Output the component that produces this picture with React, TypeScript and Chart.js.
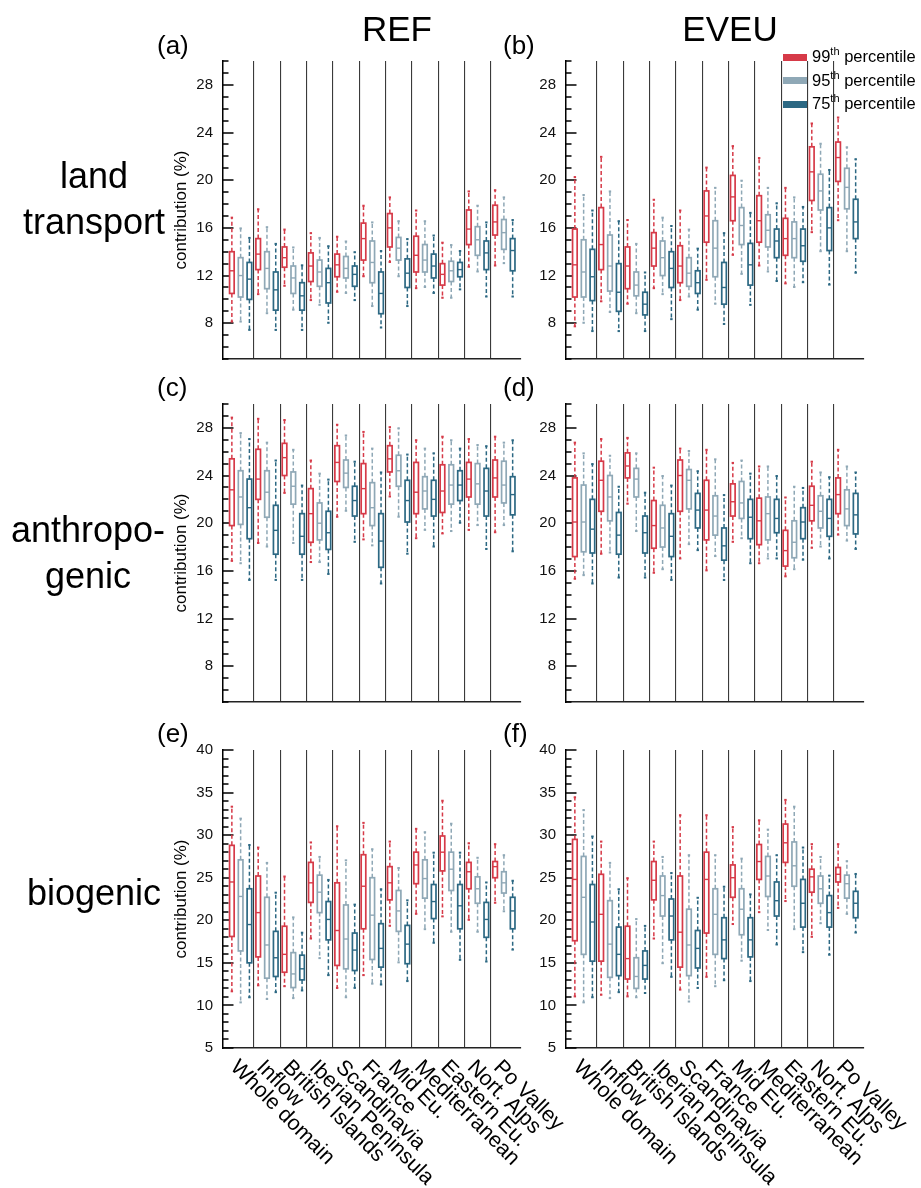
import React, { useEffect, useRef } from 'react';
import { Chart, registerables } from 'chart.js';
Chart.register(...registerables);

const categories = ['Whole domain', 'Inflow', 'British Islands', 'Iberian Peninsula', 'Scandinavia', 'France', 'Mid Eu.', 'Mediterranean', 'Eastern Eu.', 'Nort. Alps', 'Po Valley'];
const seriesLabels = ['99', '95', '75'];
const seriesColors = ['#d63a48', '#8fa8b6', '#2c6883'];
const seriesOffsets = [-1 / 3, 0, 1 / 3];

const yTicksContribution = [8, 12, 16, 20, 24, 28];
const yTicksBiogenic = [5, 10, 15, 20, 25, 30, 35, 40];

// each entry: [min, q1, median, q3, max]
const landRef99 = [[8.1, 10.5, 12.4, 14.0, 16.9], [10.4, 12.5, 13.8, 15.1, 17.6], [11.1, 12.7, 13.5, 14.4, 15.9], [9.9, 11.5, 12.8, 13.9, 15.6], [10.6, 11.9, 12.9, 13.8, 15.3], [11.9, 13.3, 15.1, 16.4, 17.9], [13.1, 14.4, 16.0, 17.2, 18.6], [10.9, 12.3, 13.7, 15.3, 17.5], [10.1, 11.2, 12.1, 13.0, 14.8], [12.7, 14.6, 15.9, 17.5, 19.1], [12.8, 15.4, 16.5, 17.9, 19.2]];
const landRef95 = [[8.1, 10.2, 12.0, 13.5, 16.0], [8.8, 10.9, 12.6, 14.0, 16.1], [9.1, 10.5, 11.8, 12.8, 14.4], [9.5, 11.1, 12.3, 13.3, 15.2], [10.5, 11.8, 12.6, 13.6, 14.9], [9.4, 11.4, 13.1, 14.9, 16.5], [11.9, 13.3, 14.3, 15.2, 16.6], [11.0, 12.3, 13.3, 14.6, 16.6], [10.1, 11.5, 12.4, 13.2, 14.6], [12.3, 13.7, 15.0, 16.1, 17.9], [13.0, 14.2, 15.6, 16.7, 18.6]];
const landRef75 = [[7.4, 10.0, 11.7, 13.1, 15.2], [7.4, 9.1, 10.8, 12.3, 14.7], [7.4, 9.1, 10.3, 11.4, 12.9], [8.0, 9.7, 11.4, 12.6, 14.5], [9.9, 11.1, 12.1, 12.8, 14.0], [7.6, 8.8, 10.5, 12.3, 14.1], [9.4, 11.0, 12.2, 13.4, 15.1], [10.5, 11.8, 12.8, 13.8, 15.4], [10.8, 11.9, 12.5, 13.1, 14.1], [10.2, 12.5, 13.9, 14.9, 16.5], [10.2, 12.4, 14.1, 15.1, 16.7]];

const landEveu99 = [[7.7, 10.2, 12.9, 15.9, 20.3], [9.8, 12.5, 14.6, 17.7, 22.0], [9.6, 10.9, 12.8, 14.4, 16.7], [10.9, 12.8, 14.3, 15.6, 18.4], [9.9, 11.4, 12.8, 14.5, 17.5], [11.6, 14.8, 17.0, 19.1, 21.1], [13.7, 16.6, 18.6, 20.4, 22.9], [12.8, 14.8, 16.6, 18.7, 21.9], [11.3, 13.7, 15.1, 16.8, 19.4], [15.6, 18.3, 20.7, 22.8, 24.8], [16.6, 19.9, 21.9, 23.2, 25.3]];
const landEveu95 = [[8.0, 10.2, 12.3, 15.0, 18.8], [8.9, 10.7, 12.8, 15.4, 19.1], [8.8, 10.3, 11.2, 12.3, 14.7], [10.4, 12.0, 13.5, 14.9, 16.9], [10.2, 11.1, 12.2, 13.5, 15.9], [9.6, 11.9, 14.3, 16.6, 19.4], [12.1, 14.6, 16.2, 17.7, 20.0], [12.3, 14.4, 15.8, 17.1, 19.4], [11.0, 13.5, 15.1, 16.5, 18.6], [14.0, 17.5, 19.1, 20.5, 23.1], [14.0, 17.6, 19.4, 21.0, 22.8]];
const landEveu75 = [[7.3, 9.9, 11.9, 14.2, 17.5], [7.3, 9.0, 10.6, 13.0, 16.6], [7.3, 8.7, 9.6, 10.6, 12.3], [8.3, 11.0, 12.6, 14.0, 16.2], [9.1, 10.5, 11.4, 12.4, 14.3], [7.9, 9.6, 11.0, 13.1, 15.6], [9.5, 11.2, 12.9, 14.7, 17.3], [11.5, 13.5, 14.9, 15.9, 18.1], [11.4, 13.2, 14.5, 15.9, 17.8], [11.2, 14.1, 16.0, 17.7, 20.9], [12.2, 15.1, 16.5, 18.4, 21.8]];

const anthRef99 = [[16.8, 19.8, 22.8, 25.4, 28.9], [18.3, 22.0, 23.7, 26.2, 28.8], [22.5, 24.0, 25.5, 26.7, 28.7], [16.7, 18.4, 20.8, 22.9, 25.3], [20.5, 23.5, 25.1, 26.5, 28.3], [18.6, 20.8, 22.9, 25.0, 27.7], [22.2, 24.3, 25.4, 26.5, 28.1], [18.7, 20.8, 22.6, 25.1, 27.0], [19.1, 20.9, 22.7, 24.9, 27.3], [19.4, 22.2, 23.7, 25.1, 27.1], [19.2, 22.2, 23.8, 25.3, 27.3]];
const anthRef95 = [[16.6, 19.9, 22.2, 24.4, 27.6], [18.0, 20.5, 22.6, 24.4, 26.8], [18.3, 21.6, 23.1, 24.3, 26.2], [16.7, 18.6, 20.0, 21.7, 24.2], [21.0, 23.0, 24.2, 25.3, 27.4], [18.1, 19.8, 21.3, 23.4, 26.3], [20.5, 23.1, 24.4, 25.7, 28.0], [19.4, 21.2, 22.7, 23.9, 26.3], [19.3, 21.6, 23.2, 24.9, 27.0], [19.8, 21.6, 23.3, 25.0, 26.6], [19.8, 21.7, 23.2, 25.2, 26.8]];
const anthRef75 = [[15.2, 18.7, 21.3, 23.7, 27.1], [15.2, 17.4, 19.4, 21.5, 25.3], [15.2, 17.4, 18.9, 20.8, 23.2], [15.7, 17.8, 19.2, 21.0, 23.7], [18.4, 20.6, 21.9, 23.1, 25.2], [14.9, 16.3, 18.5, 20.8, 24.3], [17.4, 20.1, 21.9, 23.6, 25.8], [18.0, 20.6, 22.0, 23.6, 25.9], [20.0, 21.9, 23.2, 24.4, 26.3], [17.8, 20.6, 22.7, 24.6, 26.5], [17.6, 20.7, 22.4, 23.9, 27.0]];

const anthEveu99 = [[15.3, 17.2, 20.1, 23.8, 26.8], [17.4, 21.0, 23.6, 25.2, 27.1], [21.6, 23.8, 24.8, 25.9, 27.2], [15.8, 17.9, 19.8, 21.9, 24.7], [17.0, 21.0, 24.0, 25.3, 26.3], [16.0, 18.6, 21.1, 23.6, 26.2], [18.4, 20.6, 21.8, 23.3, 25.1], [16.6, 18.2, 20.2, 22.1, 24.8], [15.5, 16.4, 17.7, 19.4, 22.2], [17.9, 20.2, 21.5, 23.1, 25.2], [19.0, 20.8, 22.4, 23.8, 26.2]];
const anthEveu95 = [[15.6, 17.6, 20.1, 23.2, 25.9], [17.5, 20.2, 22.2, 24.0, 25.7], [19.3, 22.2, 23.7, 24.6, 25.9], [16.1, 18.0, 19.6, 21.5, 24.0], [18.2, 21.2, 23.6, 24.5, 26.1], [17.2, 19.0, 20.6, 22.3, 25.4], [18.7, 20.4, 21.7, 23.5, 25.3], [17.0, 18.6, 20.8, 22.2, 24.8], [16.1, 17.1, 18.4, 20.2, 23.1], [18.0, 19.6, 21.0, 22.3, 24.3], [18.5, 19.8, 21.2, 22.8, 24.8]];
const anthEveu75 = [[14.9, 17.5, 19.5, 22.0, 25.0], [15.4, 17.4, 19.0, 20.9, 23.1], [15.4, 17.5, 19.2, 20.6, 22.6], [15.2, 17.2, 18.9, 20.8, 23.2], [17.7, 19.6, 21.1, 22.5, 24.4], [15.2, 16.9, 18.1, 19.6, 22.4], [16.6, 18.7, 20.5, 22.0, 24.2], [17.0, 19.2, 20.4, 22.0, 24.0], [16.9, 18.7, 20.1, 21.3, 23.0], [17.0, 18.9, 20.4, 22.0, 23.9], [17.8, 19.1, 20.7, 22.5, 24.3]];

const bioRef99 = [[11.6, 18.1, 24.5, 28.8, 33.4], [12.3, 15.7, 20.9, 25.2, 28.6], [12.2, 13.9, 16.0, 19.3, 25.2], [17.8, 22.1, 24.4, 26.8, 29.2], [12.0, 14.7, 18.8, 24.4, 31.1], [13.5, 19.0, 24.0, 27.7, 31.5], [19.3, 22.4, 24.4, 26.3, 29.3], [20.7, 24.3, 26.5, 28.0, 30.8], [20.4, 25.8, 28.0, 29.9, 34.1], [20.0, 23.7, 25.7, 26.8, 29.1], [22.0, 25.0, 26.3, 26.9, 29.0]];
const bioRef95 = [[10.3, 16.4, 22.8, 27.1, 32.0], [10.7, 13.2, 17.1, 22.7, 26.8], [10.8, 12.1, 13.7, 16.2, 20.4], [15.5, 20.9, 23.3, 25.3, 27.5], [10.9, 14.3, 17.8, 21.8, 27.1], [12.5, 15.4, 20.6, 25.0, 28.4], [15.0, 18.7, 21.1, 23.5, 26.2], [18.9, 22.6, 24.9, 27.1, 30.4], [18.6, 23.5, 26.0, 28.0, 31.4], [18.6, 22.0, 23.7, 25.1, 27.4], [21.0, 23.2, 24.4, 25.7, 27.7]];
const bioRef75 = [[10.9, 15.0, 19.5, 23.7, 28.9], [11.5, 13.4, 15.6, 18.7, 23.3], [11.7, 13.0, 14.3, 15.9, 18.6], [13.5, 17.7, 20.1, 22.2, 24.8], [12.0, 14.1, 16.5, 18.5, 21.9], [12.4, 14.5, 16.7, 19.6, 23.7], [12.8, 14.9, 17.2, 19.4, 22.4], [17.3, 20.2, 22.2, 24.2, 28.0], [15.3, 19.0, 21.7, 24.2, 28.0], [15.1, 18.0, 20.1, 22.1, 24.5], [16.5, 19.0, 21.1, 22.7, 24.7]];

const bioEveu99 = [[11.0, 17.6, 24.8, 29.5, 34.5], [11.2, 15.2, 20.7, 25.4, 29.3], [11.0, 13.1, 15.5, 19.3, 25.0], [17.8, 22.4, 24.7, 26.9, 29.3], [11.8, 14.5, 18.6, 25.2, 32.4], [13.3, 18.5, 24.8, 28.0, 32.4], [19.5, 22.7, 25.0, 26.5, 31.0], [20.9, 24.8, 26.9, 28.9, 31.8], [22.2, 26.8, 29.1, 31.3, 34.2], [18.0, 23.3, 25.1, 26.0, 29.0], [21.4, 24.5, 25.4, 26.2, 29.0]];
const bioEveu95 = [[10.3, 16.0, 22.7, 27.5, 33.0], [10.8, 13.3, 17.2, 22.3, 26.8], [10.9, 12.0, 13.4, 15.6, 20.2], [14.9, 20.5, 22.9, 25.2, 27.5], [10.4, 13.5, 17.1, 21.3, 27.7], [12.2, 16.0, 20.7, 23.7, 27.7], [15.2, 18.3, 21.3, 23.7, 27.3], [18.8, 22.8, 25.2, 27.5, 30.7], [18.9, 24.0, 26.4, 29.2, 33.4], [19.6, 22.0, 23.7, 25.2, 27.5], [20.7, 22.6, 24.3, 25.3, 27.0]];
const bioEveu75 = [[10.9, 15.2, 19.8, 24.2, 29.9], [11.5, 13.5, 16.0, 19.2, 23.7], [11.4, 13.1, 14.7, 16.4, 19.4], [13.3, 17.7, 20.5, 22.5, 25.6], [12.0, 14.4, 16.7, 18.8, 22.7], [12.9, 15.5, 17.7, 20.3, 24.0], [12.8, 15.7, 17.7, 20.3, 23.1], [17.1, 20.5, 22.3, 24.5, 27.7], [16.2, 19.2, 22.0, 24.8, 28.6], [15.9, 19.2, 20.9, 22.9, 25.3], [18.5, 20.3, 22.0, 23.4, 25.5]];

const FONT = '"Liberation Sans", Arial, Helvetica, sans-serif';

type PanelDef = {
  key: string;
  letter: string;
  series: number[][][];
  yMin: number;
  yMax: number;
  yTicks: number[];
  col: number;
  row: number;
};

const panels: PanelDef[] = [
  { key: 'a', letter: '(a)', series: [landRef99, landRef95, landRef75], yMin: 5, yMax: 30, yTicks: yTicksContribution, col: 0, row: 0 },
  { key: 'b', letter: '(b)', series: [landEveu99, landEveu95, landEveu75], yMin: 5, yMax: 30, yTicks: yTicksContribution, col: 1, row: 0 },
  { key: 'c', letter: '(c)', series: [anthRef99, anthRef95, anthRef75], yMin: 5, yMax: 30, yTicks: yTicksContribution, col: 0, row: 1 },
  { key: 'd', letter: '(d)', series: [anthEveu99, anthEveu95, anthEveu75], yMin: 5, yMax: 30, yTicks: yTicksContribution, col: 1, row: 1 },
  { key: 'e', letter: '(e)', series: [bioRef99, bioRef95, bioRef75], yMin: 5, yMax: 40, yTicks: yTicksBiogenic, col: 0, row: 2 },
  { key: 'f', letter: '(f)', series: [bioEveu99, bioEveu95, bioEveu75], yMin: 5, yMax: 40, yTicks: yTicksBiogenic, col: 1, row: 2 },
];

// layout geometry (pixels)
const colGeom = [
  { left: 140, width: 460, yAxisWidth: 83, padRight: 79 },
  { left: 520, width: 401, yAxisWidth: 46, padRight: 57 },
];
const rowGeom = [
  { top: 0, height: 390, padTop: 61, padBottom: 31 },
  { top: 370, height: 360, padTop: 34, padBottom: 28 },
  { top: 715, height: 473, padTop: 35, padBottom: 140 },
];

function makeBoxPlugin(yMin: number, yMax: number, majors: number[], showXLabels: boolean) {
  const minorValues: number[] = [];
  for (let v = yMin; v <= yMax; v++) minorValues.push(v);
  return {
    id: 'boxplots',
    afterDatasetsDraw(chart: any) {
      const ctx: CanvasRenderingContext2D = chart.ctx;
      const area = chart.chartArea;
      const xs = chart.scales.x;
      const ys = chart.scales.y;

      // inward tick marks on the y axis
      ctx.save();
      ctx.setLineDash([]);
      ctx.fillStyle = '#000000';
      const left = Math.round(area.left);
      minorValues.forEach((v) => {
        const py = Math.round(ys.getPixelForValue(v));
        const len = majors.indexOf(v) >= 0 ? 10.5 : 5.5;
        ctx.fillRect(left, py - 0.75, len, 1.5);
      });
      ctx.restore();

      // box plots
      chart.data.datasets.forEach((ds: any) => {
        const stats: number[][] = ds.stats;
        const color = ds.boxColor;
        stats.forEach((s, i) => {
          const px = xs.getPixelForValue(ds.data[i].x);
          const [mn, q1, md, q3, mx] = s.map((v) => ys.getPixelForValue(v));
          ctx.save();
          ctx.strokeStyle = color;
          ctx.fillStyle = color;
          ctx.lineWidth = 1.5;
          ctx.setLineDash([4, 2.5]);
          ctx.beginPath();
          ctx.moveTo(px, q3);
          ctx.lineTo(px, mx);
          ctx.moveTo(px, q1);
          ctx.lineTo(px, mn);
          ctx.stroke();
          ctx.setLineDash([]);
          ctx.fillRect(px - 1.2, mx - 0.5, 2.4, 2);
          ctx.fillRect(px - 1.2, mn - 1.5, 2.4, 2);
          const hw = 2.3;
          ctx.lineWidth = 1.7;
          ctx.fillStyle = '#ffffff';
          ctx.fillRect(px - hw, q3, hw * 2, q1 - q3);
          ctx.strokeRect(px - hw, q3, hw * 2, q1 - q3);
          ctx.lineWidth = 1.4;
          ctx.beginPath();
          ctx.moveTo(px - hw, md);
          ctx.lineTo(px + hw, md);
          ctx.stroke();
          ctx.restore();
        });
      });

      // rotated category labels under the bottom panels
      if (showXLabels) {
        ctx.save();
        ctx.font = `21.5px ${FONT}`;
        ctx.fillStyle = '#000';
        ctx.textAlign = 'left';
        ctx.textBaseline = 'middle';
        categories.forEach((c, i) => {
          const px = xs.getPixelForValue(i) - 7;
          const py = area.bottom + 16;
          ctx.save();
          ctx.translate(px, py);
          ctx.rotate(Math.PI / 4);
          ctx.fillText(c, 0, 0);
          ctx.restore();
        });
        ctx.restore();
      }
    },
  };
}

function Panel({ p }: { p: PanelDef }) {
  const ref = useRef<HTMLCanvasElement | null>(null);
  const cg = colGeom[p.col];
  const rg = rowGeom[p.row];
  useEffect(() => {
    if (!ref.current) return;
    const separators = categories.slice(1).map((_, i) => i + 0.5);
    const datasets = p.series.map((stats, si) => ({
      label: seriesLabels[si],
      data: stats.map((s, i) => ({ x: i + seriesOffsets[si], y: s[2] })),
      stats,
      boxColor: seriesColors[si],
      pointRadius: 0,
      showLine: false,
    }));
    const chart = new Chart(ref.current, {
      type: 'scatter',
      data: { datasets: datasets as any },
      options: {
        animation: false,
        responsive: false,
        devicePixelRatio: 1,
        events: [],
        layout: { padding: { left: 0, right: cg.padRight, top: rg.padTop, bottom: rg.padBottom } },
        plugins: { legend: { display: false }, tooltip: { enabled: false } },
        scales: {
          x: {
            type: 'linear',
            min: -0.67,
            max: 10.65,
            afterBuildTicks: (s: any) => {
              s.ticks = separators.map((v) => ({ value: v }));
            },
            afterFit: (s: any) => {
              s.height = 0;
            },
            ticks: { display: false },
            grid: { display: true, drawTicks: false, color: '#3a3a3a', lineWidth: 1.1 },
            border: { display: true, color: '#222', width: 1.5 },
          },
          y: {
            type: 'linear',
            min: p.yMin,
            max: p.yMax,
            afterBuildTicks: (s: any) => {
              s.ticks = p.yTicks.map((v) => ({ value: v }));
            },
            afterFit: (s: any) => {
              s.width = cg.yAxisWidth;
            },
            ticks: { padding: 10, color: '#111', font: { family: FONT, size: 15 } },
            grid: { display: false, drawTicks: false },
            border: { display: true, color: '#000', width: 1.5 },
            title: {
              display: p.col === 0,
              text: 'contribution (%)',
              color: '#000',
              font: { family: FONT, size: 17 },
              padding: { top: 31, bottom: 0 },
            },
          },
        },
      },
      plugins: [makeBoxPlugin(p.yMin, p.yMax, p.yTicks, p.row === 2)],
    } as any);
    return () => chart.destroy();
  }, []);
  return (
    <canvas
      ref={ref}
      width={cg.width}
      height={rg.height}
      style={{ position: 'absolute', left: cg.left, top: rg.top, width: cg.width, height: rg.height }}
    />
  );
}

const letterPos = [
  { left: 157, top: 32 },
  { left: 503, top: 32 },
  { left: 157, top: 374 },
  { left: 503, top: 374 },
  { left: 157, top: 720 },
  { left: 503, top: 720 },
];

const rowLabels = [
  { lines: ['land', 'transport'], cx: 94, top: 153 },
  { lines: ['anthropo-', 'genic'], cx: 88, top: 507 },
  { lines: ['biogenic'], cx: 94, top: 870 },
];

export default function App() {
  return (
    <div style={{ position: 'absolute', left: 0, top: 0, width: 921, height: 1188, background: '#fff', fontFamily: FONT, color: '#000', overflow: 'hidden' }}>
      {panels.map((p) => (
        <Panel key={p.key} p={p} />
      ))}
      <div style={{ position: 'absolute', left: 397, top: 11, transform: 'translateX(-50%)', fontSize: 35, lineHeight: '35px', whiteSpace: 'nowrap' }}>REF</div>
      <div style={{ position: 'absolute', left: 730, top: 11, transform: 'translateX(-50%)', fontSize: 35, lineHeight: '35px', whiteSpace: 'nowrap' }}>EVEU</div>
      {panels.map((p, i) => (
        <div key={'l' + p.key} style={{ position: 'absolute', left: letterPos[i].left, top: letterPos[i].top, fontSize: 26, lineHeight: '26px', whiteSpace: 'nowrap' }}>{p.letter}</div>
      ))}
      {rowLabels.map((r, i) => (
        <div key={'r' + i} style={{ position: 'absolute', left: r.cx, top: r.top, transform: 'translateX(-50%)', fontSize: 36, lineHeight: '46px', textAlign: 'center', whiteSpace: 'nowrap' }}>
          {r.lines.map((t, j) => (
            <div key={j}>{t}</div>
          ))}
        </div>
      ))}
      {seriesLabels.map((s, i) => (
        <div key={'lg' + i} style={{ position: 'absolute', left: 783, top: 45 + i * 23.5, height: 24, display: 'flex', alignItems: 'center', whiteSpace: 'nowrap' }}>
          <div style={{ width: 24, height: 7, background: seriesColors[i], marginRight: 5 }} />
          <span style={{ fontSize: 16.5, lineHeight: '24px' }}>
            {s}
            <sup style={{ fontSize: 11, verticalAlign: 'baseline', position: 'relative', top: -7 }}>th</sup> percentile
          </span>
        </div>
      ))}
    </div>
  );
}
